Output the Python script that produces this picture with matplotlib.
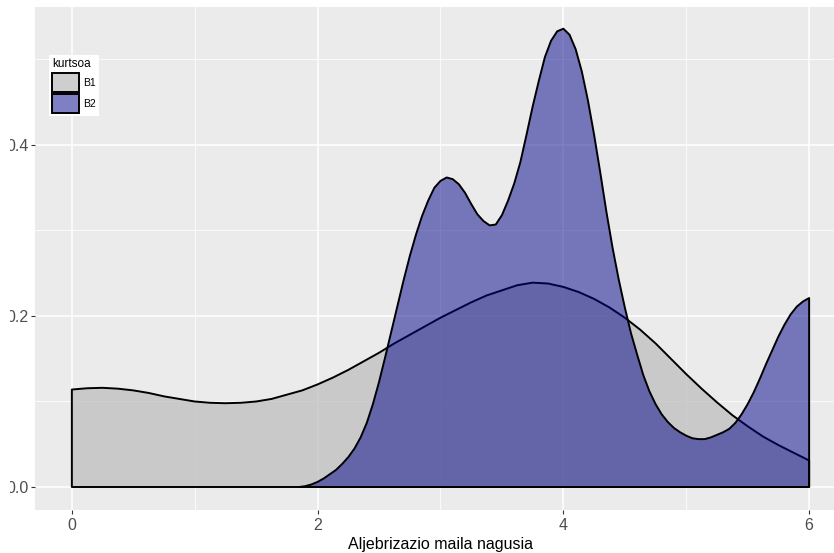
import numpy as np
import matplotlib
matplotlib.use("Agg")
import matplotlib.pyplot as plt
from matplotlib.patches import Patch, Rectangle

plt.rcParams['font.family'] = ['Liberation Sans', 'DejaVu Sans']

# density values
b1_x = [0, 0.125, 0.25, 0.375, 0.5, 0.625, 0.75, 0.875, 1.0, 1.125, 1.25,
        1.375, 1.5, 1.625, 1.75, 1.875, 2.0, 2.125, 2.25, 2.375, 2.5, 2.625,
        2.75, 2.875, 3.0, 3.125, 3.25, 3.375, 3.5, 3.625, 3.75, 3.875, 4.0,
        4.125, 4.25, 4.375, 4.5, 4.625, 4.75, 4.875, 5.0, 5.125, 5.25, 5.375,
        5.5, 5.625, 5.75, 5.875, 6.0]
b1_y = [0.114, 0.1155, 0.116, 0.115, 0.113, 0.110, 0.106, 0.103, 0.100, 0.0985,
        0.098, 0.0985, 0.100, 0.103, 0.108, 0.113, 0.120, 0.128, 0.137, 0.147,
        0.157, 0.168, 0.178, 0.188, 0.198, 0.207, 0.216, 0.224, 0.230, 0.236,
        0.239, 0.238, 0.234, 0.228, 0.220, 0.210, 0.198, 0.184, 0.168, 0.150,
        0.132, 0.115, 0.099, 0.084, 0.071, 0.059, 0.049, 0.040, 0.031]

b2_x = [1.85, 1.9, 1.95, 2.0, 2.05, 2.1, 2.15, 2.2, 2.25, 2.3, 2.35, 2.4, 2.45,
        2.5, 2.55, 2.6, 2.65, 2.7, 2.75, 2.8, 2.85, 2.9, 2.95, 3.0, 3.05, 3.1,
        3.15, 3.2, 3.25, 3.3, 3.35, 3.4, 3.45, 3.5, 3.55, 3.6, 3.65, 3.7, 3.75,
        3.8, 3.85, 3.9, 3.95, 4.0, 4.05, 4.1, 4.15, 4.2, 4.25, 4.3, 4.35, 4.4,
        4.45, 4.5, 4.55, 4.6, 4.65, 4.7, 4.75, 4.8, 4.85, 4.9, 4.95, 5.0, 5.05,
        5.1, 5.15, 5.2, 5.25, 5.3, 5.35, 5.4, 5.45, 5.5, 5.55, 5.6, 5.65, 5.7,
        5.75, 5.8, 5.85, 5.9, 5.95, 6.0]
b2_y = [0.000, 0.001, 0.003, 0.006, 0.010, 0.015, 0.020, 0.027, 0.035, 0.045,
        0.058, 0.075, 0.097, 0.123, 0.152, 0.182, 0.212, 0.242, 0.270, 0.295,
        0.317, 0.335, 0.350, 0.358, 0.362, 0.360, 0.354, 0.344, 0.331, 0.319,
        0.311, 0.306, 0.307, 0.318, 0.335, 0.355, 0.380, 0.412, 0.445, 0.475,
        0.503, 0.522, 0.533, 0.536, 0.529, 0.512, 0.486, 0.452, 0.412, 0.368,
        0.322, 0.280, 0.243, 0.210, 0.180, 0.155, 0.131, 0.112, 0.097, 0.085,
        0.076, 0.069, 0.064, 0.060, 0.057, 0.056, 0.056, 0.058, 0.061, 0.064,
        0.068, 0.075, 0.085, 0.097, 0.111, 0.127, 0.144, 0.160, 0.176, 0.190,
        0.202, 0.211, 0.217, 0.221]

groups = ["B1", "B2"]
fills = [(0.745, 0.745, 0.745, 0.75), (0.0, 0.0, 0.545, 0.5)]

fig = plt.figure(figsize=(8.34, 5.53), dpi=100)
ax = fig.add_axes([35 / 834, 43 / 553, 811 / 834, 503 / 553])
ax.set_facecolor('#EBEBEB')

for xs, ys, fc in [(b1_x, b1_y, fills[0]), (b2_x, b2_y, fills[1])]:
    px = np.concatenate([[xs[0]], xs, [xs[-1]]])
    py = np.concatenate([[0], ys, [0]])
    ax.fill(px, py, facecolor=fc, edgecolor='black', linewidth=1.4,
            joinstyle='round', zorder=3)

ax.set_xlim(-0.3, 6.3)
ax.set_ylim(-0.0269, 0.5614)
ax.set_xticks([0, 2, 4, 6])
ax.set_xticks([1, 3, 5], minor=True)
ax.set_yticks([0.0, 0.2, 0.4])
ax.set_yticklabels(["0.0", "0.2", "0.4"])
ax.set_yticks([0.1, 0.3, 0.5], minor=True)
ax.grid(which='major', color='white', linewidth=1.1)
ax.grid(which='minor', color='white', linewidth=0.55)
ax.set_axisbelow(True)
for s in ax.spines.values():
    s.set_visible(False)
ax.tick_params(which='major', length=3, width=0.8, color='#333333',
               labelcolor='#4D4D4D', labelsize=11.5, pad=3)
ax.tick_params(axis='y', pad=1.5)
ax.tick_params(which='minor', length=0)
ax.set_xlabel("Aljebrizazio maila nagusia", fontsize=11.5, labelpad=3)

handles = [Patch(facecolor=fills[i], edgecolor='black', linewidth=1.4) for i in range(2)]
leg = ax.legend(handles, groups, title="kurtsoa", loc='upper left',
                bbox_to_anchor=(44 / 834, 1 - 50 / 553), bbox_transform=fig.transFigure,
                fontsize=7.5, title_fontsize=8.5, handlelength=2.6, handleheight=2.4,
                handletextpad=0.4, labelspacing=0.25, borderpad=0.3,
                frameon=True, fancybox=False, edgecolor='none', facecolor='white',
                framealpha=1)
leg._legend_box.align = "left"
leg.set_zorder(5)

# the source image is cropped at the left, cutting into the y tick labels
fig.patches.append(Rectangle((0, 0), 10 / 834, 1, transform=fig.transFigure,
                             facecolor='white', edgecolor='none', zorder=10))

fig.savefig("out.png", dpi=100)
